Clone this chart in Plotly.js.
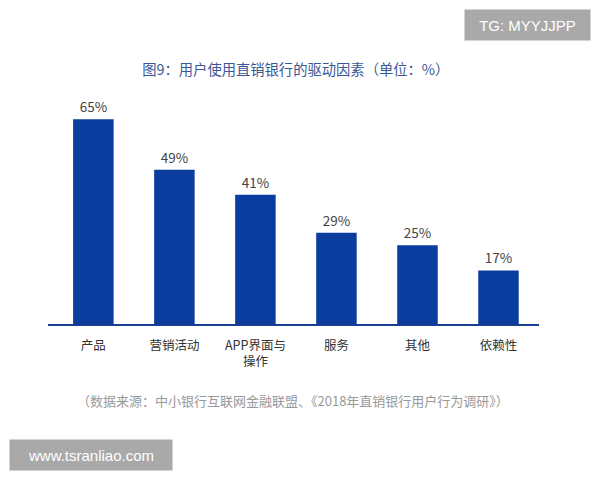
<!DOCTYPE html>
<html>
<head>
<meta charset="utf-8">
<script src="https://cdn.plot.ly/plotly-3.0.1.min.js"></script>
<style>html,body{margin:0;padding:0;background:#fff}#chart{width:600px;height:480px}</style>
</head>
<body>
<div id="chart"></div>
<script>
const categories = ['产品', '营销活动', 'APP界面与<br>操作', '服务', '其他', '依赖性'];
const values = [65, 49, 41, 29, 25, 17];
const titleText = '图9：用户使用直销银行的驱动因素（单位：%）';
const sourceText = '（数据来源：中小银行互联网金融联盟、《2018年直销银行用户行为调研》）';

const font = '"Noto Sans CJK SC", "Noto Sans", sans-serif';
const trace = {
  type: 'bar',
  x: categories,
  y: values,
  marker: {color: '#0b3d9e'},
  width: 0.5,
  texttemplate: '%{y}%',
  textposition: 'outside',
  cliponaxis: false,
  textfont: {family: font, size: 13.5, color: '#444'},
  hoverinfo: 'none'
};
const layout = {
  width: 600, height: 480,
  margin: {l: 48, r: 61, t: 72, b: 156},
  paper_bgcolor: '#fff', plot_bgcolor: '#fff',
  showlegend: false,
  bargap: 0.5,
  title: {text: titleText, x: 0.493, xanchor: 'center', y: 1 - 70/480, yanchor: 'middle',
          font: {family: font, size: 14.3, color: '#3a5896'}},
  xaxis: {type: 'category', range: [-0.56, 5.5], showline: true, linecolor: '#1b3f8f', linewidth: 1.5,
          ticks: 'outside', ticklen: 9, tickcolor: 'rgba(0,0,0,0)', showgrid: false, zeroline: false,
          tickfont: {family: font, size: 12.5, color: '#333'}, fixedrange: true},
  yaxis: {range: [0, 80], visible: false, showgrid: false, zeroline: false, fixedrange: true},
  annotations: [
    {text: sourceText, xref: 'paper', yref: 'paper', x: (293-48)/491, y: -(400-324)/252,
     xanchor: 'center', yanchor: 'middle', showarrow: false,
     font: {family: font, size: 13, color: '#999'}},
    {text: 'TG: MYYJJPP', xref: 'paper', yref: 'paper', x: (527-48)/491, y: (324-25)/252,
     xanchor: 'center', yanchor: 'middle', showarrow: false, bgcolor: '#a9a9a9',
     borderpad: 5, width: 115, height: 20,
     font: {family: '"Liberation Sans", Arial, sans-serif', size: 15, color: '#fff'}},
    {text: 'www.tsranliao.com', xref: 'paper', yref: 'paper', x: (91-48)/491, y: -(455-324)/252,
     xanchor: 'center', yanchor: 'middle', showarrow: false, bgcolor: '#a9a9a9',
     borderpad: 5, width: 152, height: 20,
     font: {family: '"Liberation Sans", Arial, sans-serif', size: 15, color: '#fff'}}
  ]
};
Plotly.newPlot('chart', [trace], layout, {displayModeBar: false, staticPlot: true});
</script>
</body>
</html>
